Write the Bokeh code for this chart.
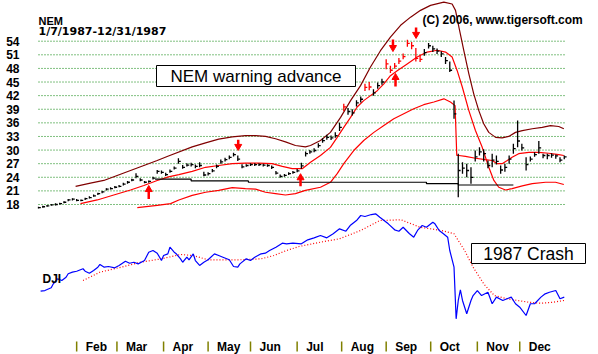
from bokeh.plotting import figure
from bokeh.models import Range1d, FixedTicker, ColumnDataSource
from bokeh.core.properties import value
from bokeh.embed import file_html
from bokeh.resources import INLINE

# ---------------- data ----------------
symbol = "NEM"
date_span = "1/7/1987-12/31/1987"
credit = "(C) 2006, www.tigersoft.com"
note_top = "NEM warning advance"
note_bottom = "1987 Crash"
index_name = "DJI"

price_ticks = [18, 21, 24, 27, 30, 33, 36, 39, 42, 45, 48, 51, 54]
months = ["Feb", "Mar", "Apr", "May", "Jun", "Jul", "Aug", "Sep", "Oct", "Nov", "Dec"]
month_start_day = [18, 37, 59, 80, 100, 122, 143, 164, 185, 207, 227]

# trading-day index of each drawn bar (0 = Jan 7 1987)
bar_day = list(range(0, 249, 2))
bar_close = [17.3, 17.5, 17.7, 17.9, 18.0, 18.2, 18.5, 19.0, 19.2, 18.9,
             18.9, 19.3, 19.5, 19.9, 20.4, 20.8, 21.4, 21.5, 21.8, 22.0,
             22.5, 22.9, 23.4, 24.2, 23.4, 22.9, 23.1, 23.8, 25.3, 25.1,
             24.6, 25.3, 26.0, 27.5, 26.2, 26.7, 26.8, 26.4, 26.6, 24.5,
             24.8, 25.4, 26.4, 27.4, 27.9, 28.4, 29.0, 28.0, 26.3, 26.6,
             26.8, 26.8, 26.8, 26.7, 26.6, 26.2, 24.9, 24.2, 24.4, 24.8,
             25.1, 25.4, 26.5, 29.2, 29.6, 29.9, 31.0, 32.1, 32.8, 32.7,
             33.2, 35.0, 39.5, 38.5, 38.2, 40.4, 41.2, 43.8, 43.9, 42.6,
             44.2, 45.0, 49.0, 47.6, 48.5, 49.6, 50.6, 53.5, 53.0, 50.2,
             50.0, 51.5, 53.0, 52.3, 51.8, 51.2, 49.7, 47.6, 38.0, 25.5,
             26.0, 25.5, 24.0, 28.5, 29.6, 29.2, 26.6, 27.8, 27.5, 25.6,
             26.2, 28.0, 30.3, 32.0, 30.5, 26.8, 28.0, 29.0, 30.5, 28.8,
             28.8, 28.9, 28.7, 27.8, 28.5]
bar_high = [17.5, 17.7, 17.9, 18.1, 18.3, 18.4, 18.7, 19.2, 19.4, 19.2,
            19.1, 19.5, 19.8, 20.2, 20.6, 21.0, 21.6, 21.8, 22.1, 22.3,
            22.8, 23.2, 23.7, 24.9, 23.8, 23.2, 23.3, 24.1, 25.6, 25.5,
            25.0, 25.7, 26.4, 28.2, 26.7, 27.1, 27.2, 26.8, 27.3, 25.2,
            25.1, 25.8, 26.8, 27.9, 28.3, 28.8, 29.4, 28.8, 26.9, 26.9,
            27.1, 27.1, 27.1, 27.0, 26.9, 26.6, 25.4, 24.6, 24.7, 25.1,
            25.4, 25.8, 27.2, 29.7, 30.0, 30.4, 31.5, 32.6, 33.4, 33.2,
            33.9, 36.0, 40.2, 39.3, 39.0, 41.0, 41.8, 44.6, 45.0, 43.4,
            44.9, 45.7, 50.0, 48.6, 49.2, 50.3, 51.3, 54.3, 53.8, 52.5,
            51.0, 52.3, 53.6, 53.0, 52.4, 51.8, 50.5, 49.5, 40.9, 29.2,
            27.3, 27.0, 26.2, 29.9, 30.6, 30.2, 27.7, 29.2, 28.8, 26.6,
            27.0, 28.8, 31.4, 36.5, 31.4, 28.4, 28.6, 29.5, 32.0, 29.2,
            29.2, 29.3, 29.0, 28.4, 28.8]
bar_low = [17.1, 17.3, 17.5, 17.7, 17.8, 18.0, 18.3, 18.7, 18.9, 18.7,
           18.7, 19.0, 19.3, 19.7, 20.1, 20.5, 21.1, 21.3, 21.6, 21.8,
           22.2, 22.6, 23.1, 23.8, 23.1, 22.7, 22.8, 23.5, 24.8, 24.8,
           24.3, 25.0, 25.7, 27.0, 25.9, 26.4, 26.4, 26.0, 26.2, 24.2,
           24.4, 25.1, 26.0, 27.0, 27.5, 28.0, 28.6, 27.6, 26.0, 26.3,
           26.5, 26.5, 26.5, 26.4, 26.3, 25.8, 24.6, 23.9, 24.1, 24.5,
           24.8, 25.1, 25.9, 28.6, 29.2, 29.5, 30.5, 31.6, 32.3, 32.2,
           32.7, 34.2, 38.6, 37.8, 37.6, 39.6, 40.5, 43.0, 43.2, 42.0,
           43.5, 44.4, 47.8, 47.0, 47.9, 49.0, 50.0, 52.8, 52.2, 49.5,
           49.4, 50.8, 52.4, 51.6, 51.2, 50.5, 49.0, 47.2, 36.9, 19.6,
           24.8, 24.0, 22.6, 27.5, 28.8, 27.5, 26.0, 26.2, 26.8, 24.8,
           25.2, 27.0, 29.2, 30.6, 29.9, 25.5, 27.5, 28.5, 29.2, 28.2,
           28.0, 28.3, 28.1, 27.3, 28.0]
red_bar_days = [144, 154, 156, 164, 166, 168, 170, 172, 174, 176, 178, 180]

# bands
upper_day = [17.5, 24.5, 30.8, 37.1, 43.4, 49.7, 56.0, 61.3, 72.5, 78.8,
             85.0, 91.4, 97.6, 102.4, 107.1, 111.8, 116.5, 121.2, 125.9, 128.3,
             133.0, 137.7, 142.5, 147.2, 151.9, 156.6, 161.3, 166.0, 170.8, 175.5,
             180.2, 184.9, 191.2, 195.1, 196.7, 198.3, 200.6, 203.0, 205.3, 207.7,
             210.0, 212.4, 215.6, 218.7, 221.8, 225.0, 228.2, 232.9, 237.6, 241.5,
             245.4, 247.8]
upper_val = [22.0, 22.7, 23.3, 24.4, 25.5, 26.6, 27.7, 28.7, 30.7, 31.6,
             32.4, 32.9, 33.2, 33.2, 33.0, 32.5, 31.8, 31.0, 30.7, 31.0,
             32.1, 33.9, 37.2, 40.9, 44.2, 48.3, 51.9, 54.9, 57.5, 59.3,
             60.8, 61.9, 62.6, 62.2, 60.8, 57.1, 52.0, 46.8, 42.4, 38.7,
             35.8, 33.9, 32.8, 32.7, 33.0, 33.9, 34.3, 34.7, 35.0, 35.4,
             35.2, 34.7]
mid_day = [19.8, 27.7, 35.5, 43.4, 49.7, 56.0, 61.3, 66.2, 72.5, 78.8,
           85.0, 91.4, 97.6, 103.9, 110.2, 115.0, 119.7, 124.4, 128.3, 133.0,
           137.7, 140.9, 144.0, 147.2, 150.3, 153.4, 156.6, 159.8, 162.9, 166.0,
           169.2, 173.9, 178.6, 183.3, 188.1, 192.0, 195.1, 197.5, 199.9, 203.0,
           206.1, 209.3, 212.4, 214.8, 217.1, 220.3, 223.4, 228.2, 232.9, 239.2,
           243.9, 247.8]
mid_val = [18.2, 19.0, 20.1, 21.2, 22.2, 23.3, 24.1, 24.6, 25.3, 26.2,
           26.6, 27.0, 27.1, 27.1, 27.0, 26.4, 25.9, 25.9, 27.3, 28.8,
           30.6, 32.8, 35.0, 37.2, 39.5, 40.9, 42.0, 43.1, 44.6, 46.4,
           47.5, 49.0, 50.5, 51.6, 52.0, 51.6, 50.5, 47.5, 43.9, 38.7,
           34.3, 30.6, 26.2, 23.3, 21.8, 21.2, 21.5, 22.1, 22.6, 22.9,
           22.9, 22.4]
lower_day = [46.6, 56.0, 62.3, 66.2, 72.5, 78.8, 85.0, 91.4, 97.6, 102.4,
             107.1, 111.8, 116.5, 121.2, 125.9, 133.0, 137.7, 140.9, 144.0, 148.7,
             153.4, 158.2, 162.9, 167.6, 172.3, 177.0, 181.7, 186.5, 191.2, 194.3,
             196.5, 197.3, 198.3, 201.4, 206.1, 210.8, 214.0, 216.4, 218.7, 221.1,
             223.4, 226.5, 231.3, 236.0, 240.7, 245.4, 247.8]
lower_val = [17.3, 17.8, 18.2, 19.0, 20.0, 20.7, 21.1, 21.7, 21.5, 21.4,
             20.7, 20.4, 20.1, 20.4, 21.1, 21.8, 22.9, 24.8, 27.0, 29.9,
             32.1, 33.9, 35.4, 36.9, 38.0, 39.1, 40.0, 40.6, 41.3, 40.6,
             39.8, 28.8, 28.8, 28.6, 28.2, 27.9, 27.7, 27.0, 27.0, 27.7,
             28.4, 29.2, 29.5, 29.5, 29.3, 29.0, 28.8]
support_day = [55, 72, 99, 183, 198, 224]
support_val = [23.6, 23.2, 22.9, 22.6, 22.3, 22.3]

# signal arrows (tip is where the arrow points)
signal_day = [52.0, 94.2, 123.6, 167.2, 168.4, 178.1]
signal_tip = [21.3, 30.8, 23.9, 52.6, 46.0, 55.5]
signal_tail = [19.2, 32.3, 22.0, 54.4, 44.0, 57.0]

# Dow Jones Industrials
dji_day = [1, 3, 6, 7, 9, 11, 13, 14, 16, 18,
           21, 22, 24, 26, 28, 29, 31, 33, 36, 38,
           41, 43, 45, 47, 50, 52, 54, 56, 58, 59,
           61, 62, 64, 65, 67, 68, 70, 71, 73, 74,
           76, 78, 80, 83, 85, 87, 90, 92, 94, 95,
           98, 100, 102, 105, 107, 109, 112, 115, 117, 120,
           124, 127, 130, 133, 136, 139, 142, 145, 147, 150,
           152, 154, 157, 159, 161, 163, 165, 168, 170, 172,
           175, 177, 179, 181, 183, 186, 187, 189, 191, 193,
           194, 196, 197, 198, 199, 200, 202, 204, 205, 207,
           209, 212, 214, 216, 219, 221, 223, 225, 227, 230,
           232, 234, 237, 239, 241, 244, 246, 248]
dji_val = [1997, 2003, 2029, 2066, 2113, 2097, 2128, 2160, 2175, 2184,
           2207, 2184, 2165, 2191, 2222, 2247, 2222, 2228, 2216, 2238,
           2278, 2259, 2268, 2253, 2284, 2362, 2378, 2353, 2284, 2331,
           2347, 2409, 2362, 2347, 2300, 2268, 2315, 2291, 2347, 2284,
           2238, 2268, 2291, 2347, 2331, 2315, 2291, 2228, 2222, 2253,
           2300, 2284, 2315, 2347, 2353, 2378, 2409, 2447, 2441, 2447,
           2441, 2478, 2497, 2519, 2497, 2535, 2581, 2559, 2612, 2659,
           2706, 2697, 2715, 2722, 2690, 2659, 2628, 2572, 2559, 2596,
           2535, 2503, 2572, 2612, 2596, 2643, 2628, 2566, 2535, 2503,
           2378, 2222, 1738, 1910, 2010, 1910, 1785, 1910, 1956, 2003,
           1956, 1987, 1879, 1941, 1910, 1926, 1941, 1879, 1847, 1769,
           1879, 1879, 1941, 1972, 1987, 2003, 1926, 1941]
dji_ma_day = [21, 29, 39, 48, 58, 67, 73, 80, 86, 95,
              105, 111, 117, 123, 133, 142, 152, 161, 171, 180,
              190, 196, 201, 205, 210, 215, 221, 231, 237, 243, 248]
dji_ma_val = [2097, 2175, 2222, 2268, 2300, 2341, 2331, 2291, 2291, 2291,
              2300, 2331, 2378, 2416, 2456, 2488, 2566, 2659, 2666, 2596,
              2566, 2535, 2378, 2222, 2066, 1956, 1926, 1894, 1884, 1894, 1910]

# ---------------- layout helpers (pixel -> data) ----------------
W, H = 598, 354
LEFT = 30
X0_PX, PX_PER_DAY = 38.0, 2.12


def day_at(px):
    return (px - X0_PX) / PX_PER_DAY


def price_at(py):
    return 54 - (py - 40.7) / 4.536


def dji_at(py):
    return 2722 - (py - 213.3) * 9.37


BOLD = dict(text_font=value("Liberation Sans"), text_font_style="bold",
            text_font_size="12px", text_color="black")

p = figure(width=W, height=H, output_backend="svg", toolbar_location=None,
           x_range=Range1d(day_at(LEFT), day_at(W)),
           y_range=Range1d(price_at(H), price_at(0)),
           x_axis_location=None, y_axis_location="left",
           min_border_left=LEFT, min_border_right=0, min_border_top=0, min_border_bottom=0,
           background_fill_color="white", border_fill_color="white",
           outline_line_color=None)
p.extra_y_ranges = {"dji": Range1d(dji_at(H), dji_at(0))}
p.grid.visible = False

ax = p.yaxis[0]
ax.ticker = FixedTicker(ticks=price_ticks)
ax.axis_line_color = None
ax.major_tick_line_color = None
ax.minor_tick_line_color = None
ax.major_tick_out = 0
ax.major_label_standoff = 11
ax.major_label_text_font = "Liberation Sans"
ax.major_label_text_font_style = "bold"
ax.major_label_text_font_size = "12px"
ax.major_label_text_color = "black"

# dotted green grid
p.segment(x0=[bar_day[0]] * len(price_ticks), x1=[bar_day[-1] + 0.6] * len(price_ticks),
          y0=price_ticks, y1=price_ticks, line_color="#008000", line_width=1, line_dash="1 2")

# bands
p.line(upper_day, upper_val, line_color="#800000", line_width=1.2)
p.line(mid_day, mid_val, line_color="#FF0000", line_width=1.2)
p.line(lower_day, lower_val, line_color="#FF0000", line_width=1.2)
p.step(support_day, support_val, mode="after", line_color="black", line_width=1.2)

# price bars
bar_color = ["#FF0000" if d in red_bar_days else "black" for d in bar_day]
bars = ColumnDataSource(dict(x=bar_day, hi=bar_high, lo=bar_low, c=bar_close,
                             xr=[d + 1.1 for d in bar_day], col=bar_color))
p.segment(x0="x", x1="x", y0="lo", y1="hi", line_color="col", line_width=1.3, source=bars)
p.segment(x0="x", x1="xr", y0="c", y1="c", line_color="col", line_width=1.3, source=bars)

# signal arrows
sig = ColumnDataSource(dict(x=signal_day, tip=signal_tip, tail=signal_tail,
                            m=["triangle" if t > b else "inverted_triangle"
                               for t, b in zip(signal_tip, signal_tail)]))
p.segment(x0="x", x1="x", y0="tail", y1="tip", line_color="#FF0000", line_width=2.5, source=sig)
p.scatter(x="x", y="tip", marker="m", size=7, fill_color="#FF0000", line_color="#FF0000", source=sig)

# Dow Jones panel
p.line(dji_ma_day, dji_ma_val, y_range_name="dji", line_color="#FF0000", line_width=1.2,
       line_dash="1 2")
p.line(dji_day, dji_val, y_range_name="dji", line_color="#0000FF", line_width=1.2)
p.text(x=[day_at(42)], y=[dji_at(278.5)], text=[index_name], text_baseline="middle",
       text_align="left", y_range_name="dji", **BOLD)

# month tick marks and labels
p.segment(x0=month_start_day, x1=month_start_day, y0=[dji_at(341)] * len(months),
          y1=[dji_at(351)] * len(months), y_range_name="dji", line_color="#808000", line_width=1.5)
p.text(x=month_start_day, y=[dji_at(346.5)] * len(months), text=months, x_offset=9,
       text_baseline="middle", text_align="left", y_range_name="dji", **BOLD)

# titles
p.text(x=[day_at(38)], y=[price_at(20)], text=[symbol], text_baseline="middle",
       text_align="left", text_font=value("Liberation Sans"), text_font_style="bold",
       text_font_size="11px", text_color="black")
p.text(x=[day_at(38)], y=[price_at(30.5)], text=[date_span], text_baseline="middle",
       text_align="left", text_font=value("DejaVu Sans"), text_font_style="bold",
       text_font_size="11px", text_color="black")
p.text(x=[day_at(422)], y=[price_at(19.5)], text=[credit], text_baseline="middle",
       text_align="left", **BOLD)

# annotation boxes
p.quad(left=[day_at(156)], right=[day_at(355)], top=[price_at(65)], bottom=[price_at(86)],
       fill_color="white", line_color="black", line_width=1)
p.text(x=[(day_at(156) + day_at(355)) / 2], y=[price_at(75.5)], text=[note_top],
       text_align="center", text_baseline="middle", text_font=value("Liberation Sans"),
       text_font_size="17px", text_color="black")
p.quad(left=[day_at(471)], right=[day_at(585)], top=[dji_at(243)], bottom=[dji_at(263)],
       y_range_name="dji", fill_color="white", line_color="black", line_width=1)
p.text(x=[(day_at(471) + day_at(585)) / 2], y=[dji_at(253.5)], text=[note_bottom],
       y_range_name="dji", text_align="center", text_baseline="middle",
       text_font=value("Liberation Sans"), text_font_size="17.5px", text_color="black")

open("out.html", "w").write(file_html(p, INLINE))
